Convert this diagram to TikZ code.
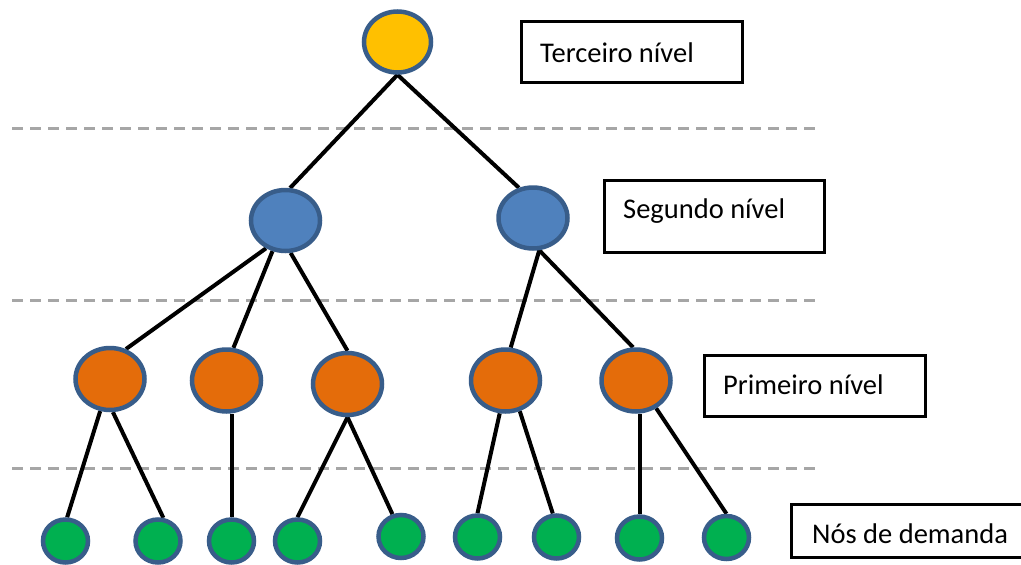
\documentclass[tikz,border=0pt]{standalone}
\usepackage{fontspec}
\setmainfont{Carlito}
\usetikzlibrary{shapes.geometric,backgrounds}
\definecolor{nodeborder}{RGB}{56,93,138}
\definecolor{yellowfill}{RGB}{255,192,0}
\definecolor{bluefill}{RGB}{79,129,189}
\definecolor{orangefill}{RGB}{228,108,10}
\definecolor{greenfill}{RGB}{0,176,80}
\definecolor{dashgrey}{RGB}{166,166,166}
\tikzset{
  nd/.style={ellipse, draw=nodeborder, line width=4.5pt, inner sep=0pt},
  topnd/.style={nd, fill=yellowfill, minimum width=67pt, minimum height=61pt},
  secnd/.style={nd, fill=bluefill, minimum width=69pt, minimum height=61pt},
  firstnd/.style={nd, fill=orangefill, minimum width=69pt, minimum height=62pt},
  demnd/.style={nd, fill=greenfill, minimum width=45pt, minimum height=43pt},
  conn/.style={line width=4pt, black},
  sep/.style={line width=3pt, dashgrey, dash pattern=on 11pt off 7pt},
  lblbox/.style={draw=black, line width=3pt, anchor=north west, inner sep=0pt},
  lbltext/.style={anchor=base west, inner sep=0pt, font=\fontsize{28.5pt}{30pt}\selectfont}
}
\begin{document}
\begin{tikzpicture}[x=1pt,y=-1pt]
\clip (0,0) rectangle (1021,565);
% nodes
\node[topnd] (top) at (397.5,42) {};
\node[secnd] (b1) at (285.5,220.5) {};
\node[secnd] (b2) at (533,218) {};
\node[firstnd] (o1) at (110,379) {};
\node[firstnd] (o2) at (226.5,380.5) {};
\node[firstnd] (o3) at (347.5,384) {};
\node[firstnd] (o4) at (505.5,380.5) {};
\node[firstnd] (o5) at (636,380.5) {};
\node[demnd] (g1) at (65.5,541) {};
\node[demnd] (g2) at (158,541) {};
\node[demnd] (g3) at (231.5,541) {};
\node[demnd] (g4) at (297.5,541) {};
\node[demnd] (g5) at (401,536.5) {};
\node[demnd] (g6) at (477.5,537) {};
\node[demnd] (g7) at (556.5,537) {};
\node[demnd] (g8) at (639.5,538) {};
\node[demnd] (g9) at (726.5,537.5) {};
% labels
\node[lblbox, minimum width=221pt, minimum height=61pt] (box3) at (520,20) {};
\node[lbltext] (txt3) at (540,62) {Terceiro nível};
\node[lblbox, minimum width=220pt, minimum height=72pt] (box2) at (603,179) {};
\node[lbltext] (txt2) at (623,218) {Segundo nível};
\node[lblbox, minimum width=221pt, minimum height=61pt] (box1) at (703,354) {};
\node[lbltext] (txt1) at (723,394) {Primeiro nível};
\node[lblbox, minimum width=250pt, minimum height=53pt] (box0) at (790,503) {};
\node[lbltext] (txt0) at (812,543) {Nós de demanda};
\coordinate (s1a) at (12,128); \coordinate (s1b) at (815,128);
\coordinate (s2a) at (12,300); \coordinate (s2b) at (815,300);
\coordinate (s3a) at (12,468); \coordinate (s3b) at (815,468);
\begin{pgfonlayer}{background}
\fill[white] (0,0) rectangle (1021,565);
\draw[sep] (s1a) -- (s1b);
\draw[sep] (s2a) -- (s2b);
\draw[sep] (s3a) -- (s3b);
\draw[conn] (top.south) -- (b1.82);
\draw[conn] (top.south) -- (b2.115);
\draw[conn] (b1.235) -- (o1.62);
\draw[conn] (b1.247) -- (o2.78);
\draw[conn] (b1.279) -- (o3.north);
\draw[conn] (b2.281) -- (o4.81);
\draw[conn] (b2.281) -- (o5.95);
\draw[conn] (o1.253) -- (g1.86);
\draw[conn] (o1.275) -- (g2.77);
\draw[conn] (o2.south -| g3) -- (g3.north);
\draw[conn] (o3.south) -- (g4.north);
\draw[conn] (o3.south) -- (g5.111);
\draw[conn] (o4.260) -- (g6.north);
\draw[conn] (o4.295) -- (g7.99);
\draw[conn] (o5.south -| g8) -- (g8.north);
\draw[conn] (o5.306) -- (g9.north);
\end{pgfonlayer}
\end{tikzpicture}
\end{document}
